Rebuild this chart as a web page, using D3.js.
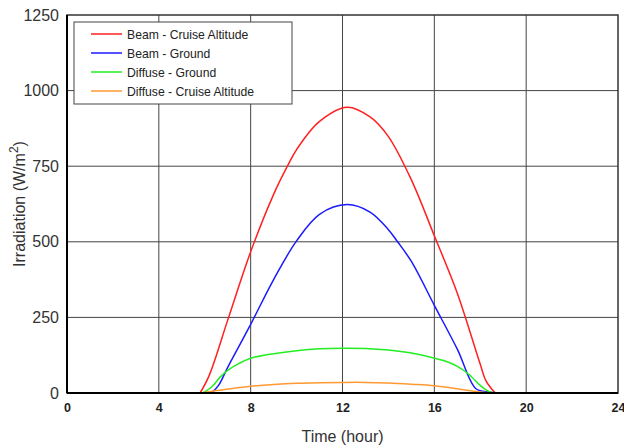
<!DOCTYPE html>
<html>
<head>
<meta charset="utf-8">
<script src="https://cdn.jsdelivr.net/npm/d3@7"></script>
<style>
  body { margin: 0; background: #fff; }
  svg { display: block; font-family: "Liberation Sans", Arial, sans-serif; }
</style>
</head>
<body>
<svg id="chart" width="624" height="448"></svg>
<script>
// values (hour, W/m^2)
var beamCruiseHours = [5.8, 6.2, 7, 8, 9, 9.6, 10, 11, 12.2, 13.2, 14, 15, 16, 17, 18, 18.25, 18.65];
var beamCruiseVals  = [0, 59, 241, 467, 657, 750, 805, 898, 945, 913, 848, 705, 520, 330, 95, 40, 0];

var beamGroundHours = [6.3, 6.6, 7, 8, 9, 10, 11, 12.2, 13.2, 14, 14.4, 15, 16, 17, 17.8, 18.3, 18.9];
var beamGroundVals  = [0, 25, 85, 227, 375, 503, 591, 623, 598, 540, 500, 435, 290, 145, 15, 4, 0];

var diffGroundHours = [5.9, 6.3, 6.7, 7, 7.5, 8, 9, 10, 11, 12, 13, 14, 15, 16, 16.5, 17, 17.5, 18, 18.3, 18.6];
var diffGroundVals  = [0, 20, 55, 75, 98, 115, 130, 140, 146, 148, 147, 142, 132, 115, 105, 88, 62, 25, 8, 0];

var diffCruiseHours = [5.9, 6.5, 7, 8, 9, 10, 11, 12, 13, 14, 15, 16, 17, 17.5, 18, 18.6];
var diffCruiseVals  = [0, 8, 13, 22, 28, 32, 34, 35, 35, 33, 29, 24, 14, 8, 3, 0];

var seriesNames  = ["Beam - Cruise Altitude", "Beam - Ground", "Diffuse - Ground", "Diffuse - Cruise Altitude"];
var seriesColors = ["#ff2020", "#1a1aff", "#22ee22", "#ff9933"];

var xTicks = [0, 4, 8, 12, 16, 20, 24];
var yTicks = [0, 250, 500, 750, 1000, 1250];

var series = [
  {hours: beamCruiseHours, vals: beamCruiseVals},
  {hours: beamGroundHours, vals: beamGroundVals},
  {hours: diffGroundHours, vals: diffGroundVals},
  {hours: diffCruiseHours, vals: diffCruiseVals}
];

var margin = {top: 15, right: 6, bottom: 55, left: 67};
var width = 624, height = 448;

var svg = d3.select("#chart");

var x = d3.scaleLinear().domain([0, 24]).range([margin.left, width - margin.right]);
var y = d3.scaleLinear().domain([0, 1250]).range([height - margin.bottom, margin.top]);

// grid
svg.append("g").selectAll("line")
  .data(xTicks.slice(1, -1))
  .enter().append("line")
  .attr("x1", d => x(d)).attr("x2", d => x(d))
  .attr("y1", y(0)).attr("y2", y(1250))
  .attr("stroke", "#444").attr("stroke-width", 1);

svg.append("g").selectAll("line")
  .data(yTicks.slice(1, -1))
  .enter().append("line")
  .attr("x1", x(0)).attr("x2", x(24))
  .attr("y1", d => y(d)).attr("y2", d => y(d))
  .attr("stroke", "#444").attr("stroke-width", 1);

// curves
var line = d3.line()
  .x(d => x(d[0]))
  .y(d => y(d[1]))
  .curve(d3.curveCatmullRom.alpha(0.5));

series.forEach(function(s, i) {
  var pts = s.hours.map((h, j) => [h, s.vals[j]]);
  svg.append("path")
    .datum(pts)
    .attr("fill", "none")
    .attr("stroke", seriesColors[i])
    .attr("stroke-width", 1.5)
    .attr("d", line);
});

// frame
svg.append("rect")
  .attr("x", x(0)).attr("y", y(1250))
  .attr("width", x(24) - x(0)).attr("height", y(0) - y(1250))
  .attr("fill", "none").attr("stroke", "#333").attr("stroke-width", 1.5);
svg.append("line")
  .attr("x1", x(0)).attr("x2", x(24))
  .attr("y1", y(0)).attr("y2", y(0))
  .attr("stroke", "#000").attr("stroke-width", 2);
svg.append("line")
  .attr("x1", x(0)).attr("x2", x(0))
  .attr("y1", y(0)).attr("y2", y(1250))
  .attr("stroke", "#000").attr("stroke-width", 2);

// axes text
var xAxis = d3.axisBottom(x).tickValues(xTicks).tickSize(0).tickPadding(10);
var gx = svg.append("g").attr("transform", "translate(0," + y(0) + ")").call(xAxis);
gx.select(".domain").remove();
gx.selectAll("text")
  .attr("font-family", "Liberation Sans, Arial, sans-serif")
  .attr("font-size", 12.5).attr("font-weight", "bold").attr("fill", "#222");

var yAxis = d3.axisLeft(y).tickValues(yTicks).tickFormat(d3.format("d")).tickSize(0).tickPadding(8);
var gy = svg.append("g").attr("transform", "translate(" + x(0) + ",0)").call(yAxis);
gy.select(".domain").remove();
gy.selectAll("text")
  .attr("font-family", "Liberation Sans, Arial, sans-serif")
  .attr("font-size", 16).attr("fill", "#333");

svg.append("text")
  .attr("x", (x(0) + x(24)) / 2).attr("y", 442)
  .attr("text-anchor", "middle")
  .attr("font-size", 16).attr("fill", "#333")
  .text("Time (hour)");

var yt = svg.append("text")
  .attr("transform", "translate(25," + ((y(0) + y(1250)) / 2) + ") rotate(-90)")
  .attr("text-anchor", "middle")
  .attr("font-size", 16).attr("fill", "#333");
yt.append("tspan").text("Irradiation (W/m");
yt.append("tspan").attr("dy", -7).attr("font-size", 12).text("2");
yt.append("tspan").attr("dy", 7).text(")");

// legend
var lg = svg.append("g").attr("transform", "translate(74,22)");
lg.append("rect")
  .attr("width", 218).attr("height", 82)
  .attr("fill", "#fff").attr("stroke", "#444").attr("stroke-width", 1);
seriesNames.forEach(function(name, i) {
  var ly = 12 + i * 19;
  lg.append("line")
    .attr("x1", 17).attr("x2", 48)
    .attr("y1", ly).attr("y2", ly)
    .attr("stroke", seriesColors[i]).attr("stroke-width", 1.5);
  lg.append("text")
    .attr("x", 53).attr("y", ly + 5)
    .attr("font-size", 12.2).attr("fill", "#222")
    .text(name);
});
</script>
</body>
</html>
